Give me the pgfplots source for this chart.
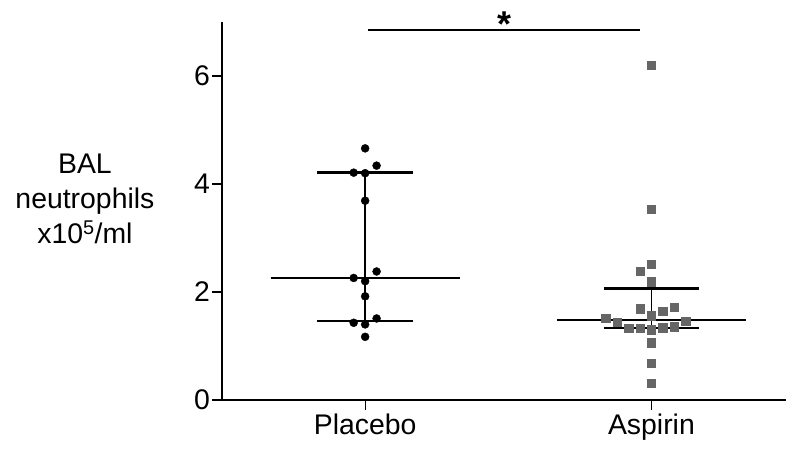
\documentclass[border=0pt]{standalone}
\usepackage{fontspec}
\setmainfont{Liberation Sans}
\usepackage{pgfplots}
\pgfplotsset{compat=1.18}
\definecolor{sq}{RGB}{102,102,102}
\begin{document}
\fontsize{28.5}{35}\selectfont
\begin{tikzpicture}
\begin{axis}[name=ax, scale only axis, width=564bp, height=378bp,
 xmin=-0.5, xmax=1.47, ymin=0, ymax=7,
 axis lines=left, axis line style={-, line width=1.2bp},
 xtick={0,1}, xticklabels={Placebo,Aspirin},
 ytick={0,2,4,6},
 tick align=outside, major tick length=10bp, tick style={line width=1.2bp, black},
 /pgf/number format/assume math mode=true,
 ticklabel style={font=\fontsize{28.5}{34}\selectfont},
 yticklabel style={inner sep=2bp},
 xticklabel style={inner sep=4bp},
 clip=false,
]
% placebo points
\addplot[only marks, mark=*, mark size=4bp, black] coordinates {
(0,4.66) (0.04,4.34) (-0.04,4.21) (0,4.20) (0,3.69) (0.04,2.38) (-0.04,2.26)
(0,2.20) (0,1.92) (0.04,1.51) (-0.04,1.43) (0,1.40) (0,1.17)};
% aspirin points
\addplot[only marks, mark=square*, mark size=4.2bp, sq, mark options={draw=sq, fill=sq}] coordinates {
(1,6.20) (1,3.53) (1,2.51) (0.96,2.39) (1,2.19) (0.96,1.69) (1.04,1.64) (1.08,1.72)
(1,1.56) (0.84,1.51) (0.88,1.44) (1.12,1.46) (0.92,1.33) (0.96,1.33) (1,1.30)
(1.04,1.34) (1.08,1.36) (1,1.06) (1,0.68) (1,0.31)};
% placebo median / IQR
\addplot[black, line width=1.5bp] coordinates {(-0.33,2.26) (0.33,2.26)};
\addplot[black, line width=2.6bp] coordinates {(-0.167,4.21) (0.167,4.21)};
\addplot[black, line width=2.6bp] coordinates {(-0.167,1.46) (0.167,1.46)};
\addplot[black, line width=1.6bp] coordinates {(0,1.46) (0,4.21)};
% aspirin median / IQR
\addplot[black, line width=1.5bp] coordinates {(0.67,1.48) (1.33,1.48)};
\addplot[black, line width=2.6bp] coordinates {(0.833,2.07) (1.167,2.07)};
\addplot[black, line width=2.6bp] coordinates {(0.833,1.33) (1.167,1.33)};
\addplot[black, line width=1.6bp] coordinates {(1,1.33) (1,2.07)};
% significance
\addplot[black, line width=1.3bp] coordinates {(0.01,6.85) (0.96,6.85)};
\node[anchor=base, inner sep=0pt, font=\bfseries\fontsize{36}{40}\selectfont] at (axis cs:0.486,6.74) {*};
\node[align=center, font=\fontsize{28.5}{35}\selectfont] at (axis description cs:-0.243,0.533) {BAL\\neutrophils\\x10\textsuperscript{5}/ml};
\end{axis}
\pgfresetboundingbox
\path ([shift={(-222bp,-50bp)}]ax.south west) rectangle ([shift={(0bp,22bp)}]ax.north east);
\end{tikzpicture}
\end{document}
